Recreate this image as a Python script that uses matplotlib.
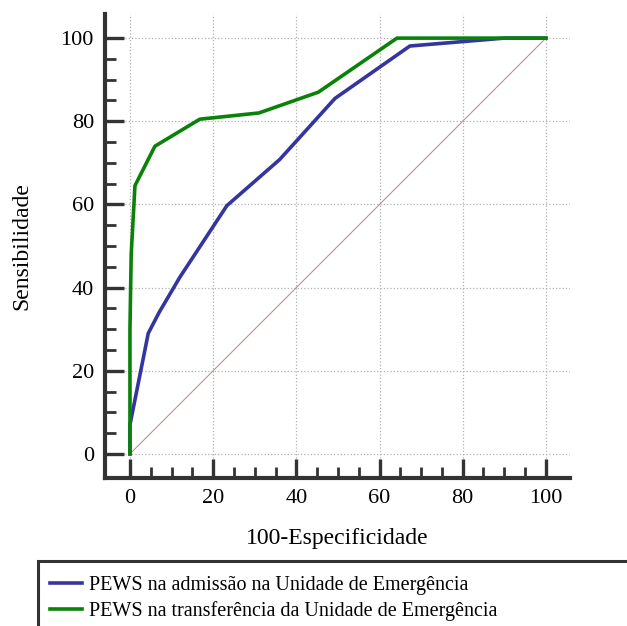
import matplotlib.pyplot as plt
from matplotlib.patches import Rectangle
from matplotlib.ticker import MultipleLocator, FixedLocator

plt.rcParams['font.family'] = ['Liberation Serif', 'DejaVu Serif']

# ROC curve points (100-specificity, sensitivity)
adm_x = [0, 0, 4.4, 7, 12, 23.3, 36, 49.3, 67.3, 90, 100]
adm_y = [0, 7, 29, 34, 42.5, 59.7, 70.8, 85.5, 98.1, 100, 100]
transf_x = [0, 0, 0.3, 1.2, 6, 16.8, 31, 45.3, 64.2, 100]
transf_y = [0, 30, 48, 64.5, 74, 80.5, 82, 87, 100, 100]
labels = ["PEWS na admissão na Unidade de Emergência",
          "PEWS na transferência da Unidade de Emergência"]

W, H = 627, 626
fig = plt.figure(figsize=(W / 100, H / 100), dpi=100)
ax = fig.add_axes([105 / W, 1 - 478 / H, (570 - 105) / W, (478 - 14) / H])

ax.plot([0, 100], [0, 100], color='#c08080', lw=0.7, zorder=2)
l1, = ax.plot(adm_x, adm_y, color='#3535a0', lw=2.6, zorder=3)
l2, = ax.plot(transf_x, transf_y, color='#0a820a', lw=2.6, zorder=4)

ax.set_xlim(-6, 105.8)
ax.set_ylim(-5.8, 105.8)
ax.xaxis.set_major_locator(MultipleLocator(20))
ax.yaxis.set_major_locator(MultipleLocator(20))
minors = [v for v in range(5, 100, 5) if v % 20]
ax.xaxis.set_minor_locator(FixedLocator(minors))
ax.yaxis.set_minor_locator(FixedLocator(minors))
ax.grid(True, which='major', color='#b0b0b0', ls=':', lw=0.9)
ax.set_axisbelow(True)

for s in ['top', 'right']:
    ax.spines[s].set_visible(False)
for s in ['left', 'bottom']:
    ax.spines[s].set_linewidth(3)
    ax.spines[s].set_color('#333333')

ax.tick_params(which='major', direction='in', length=14, width=2.4,
               color='#333333', labelsize=16, pad=8)
ax.tick_params(which='minor', direction='in', length=8, width=2,
               color='#333333')

ax.set_xlabel('100-Especificidade', fontsize=17, labelpad=14)
ax.set_ylabel('Sensibilidade', fontsize=17, labelpad=20)

# legend box running off the figure edge
fig.patches.append(Rectangle((38 / W, -0.1), 1.0, (0.1 + 1 - 561 / H),
                             transform=fig.transFigure, fill=False,
                             edgecolor='#333333', lw=2.2))
fig.legend([l1, l2], labels, loc='upper left',
           bbox_to_anchor=(36 / W, 1 - 562 / H), frameon=False,
           fontsize=14.5, handlelength=1.6, handletextpad=0.35,
           labelspacing=0.3, borderpad=0.2)

fig.savefig('out.png', dpi=100)
